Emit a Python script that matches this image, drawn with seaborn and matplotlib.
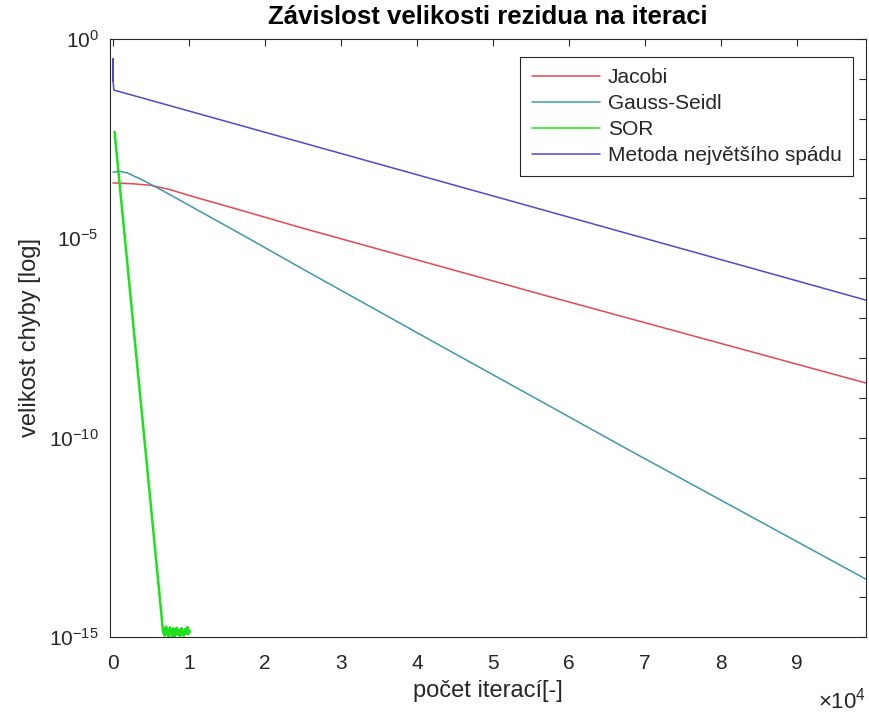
import matplotlib
matplotlib.use("Agg")
import matplotlib.pyplot as plt
import numpy as np
import pandas as pd
import seaborn as sns

# Data: iteration count and log10 of residual size
jacobi_x = [0, 2500, 5000, 7500, 11000, 16000, 24500, 57200, 99100]
jacobi_log = [-3.61, -3.63, -3.67, -3.78, -3.98, -4.25, -4.72, -6.45, -8.63]

gauss_x = [0, 900, 1900, 4000, 6500, 18200, 24500, 44100, 57200, 67900, 99100]
gauss_log = [-3.34, -3.32, -3.36, -3.55, -3.80, -5.04, -5.72, -7.80, -9.18, -10.31, -13.55]

sor_x = [200, 6400, 6500, 6600, 6700, 6800, 6900, 7000, 7100, 7200, 7300, 7400,
         7500, 7600, 7700, 7800, 7900, 8000, 8100, 8200, 8300, 8400, 8500, 8600,
         8700, 8800, 8900, 9000, 9100, 9200, 9300, 9400, 9500, 9600, 9700, 9800,
         9900, 10000, 10100]
sor_log = [-2.33, -14.50, -14.72, -14.90, -14.78, -14.97, -14.84, -14.74, -14.93,
           -14.82, -14.99, -14.86, -14.76, -14.94, -14.83, -14.98, -14.78, -14.90,
           -14.99, -14.80, -14.91, -14.77, -14.95, -14.86, -14.82, -14.98, -14.87,
           -14.78, -14.94, -14.84, -14.97, -14.90, -14.80, -14.92, -14.86, -14.75,
           -14.93, -14.82, -14.88]

steepest_x = [0, 0, 0, 100, 99100]
steepest_log = [-1.05, -0.50, -1.05, -1.28, -6.55]

series = [
    ("Jacobi", jacobi_x, jacobi_log, "#e8474f"),
    ("Gauss-Seidl", gauss_x, gauss_log, "#3d97b0"),
    ("SOR", sor_x, sor_log, "#1fe01f"),
    ("Metoda největšího spádu", steepest_x, steepest_log, "#4b4bd2"),
]

sns.set_theme(style="white")
plt.rcParams["font.family"] = ["Liberation Sans", "DejaVu Sans"]
plt.rcParams["mathtext.fontset"] = "custom"
plt.rcParams["mathtext.rm"] = "Liberation Sans"
plt.rcParams["mathtext.it"] = "Liberation Sans:italic"
text_col = "#262626"

fig = plt.figure(figsize=(8.69, 7.13), dpi=100)
ax = fig.add_axes([0.1266, 0.1066, 0.8699, 0.8387])

for name, xs, ys, col in series:
    df = pd.DataFrame({"x": xs, "y": np.power(10.0, ys)})
    sns.lineplot(data=df, x="x", y="y", ax=ax, color=col, label=name,
                 estimator=None, sort=False, linewidth=1.1 if name != "SOR" else 1.8)

ax.set_yscale("log")
ax.set_xlim(-400, 99100)
ax.set_ylim(1e-15, 1e0)

xticks = np.arange(0, 10) * 1e4
ax.set_xticks(xticks)
ax.set_xticklabels([str(i) for i in range(10)])
yt = [10.0 ** (-k) for k in range(0, 16)]
ax.set_yticks(yt)
ax.set_yticklabels([(r"$10^{%d}$" % (-k)) if k % 5 == 0 else "" for k in range(0, 16)])
ax.minorticks_off()
ax.tick_params(axis="both", which="major", direction="in", length=5, width=0.8,
               top=True, right=True, colors=text_col, labelsize=15)
ax.tick_params(axis="x", pad=12)
ax.tick_params(axis="y", pad=8)
for s in ax.spines.values():
    s.set_color(text_col)
    s.set_linewidth(0.8)

ax.set_xlabel("počet iterací[-]", fontsize=17, color=text_col, labelpad=5)
ax.set_ylabel("velikost chyby [log]", fontsize=17, color=text_col, labelpad=6)
ax.set_title("Závislost velikosti rezidua na iteraci", fontsize=18.5, fontweight="bold",
             color="black", pad=11)
ax.text(1.0, -0.107, r"$\times10^{4}$", transform=ax.transAxes, ha="right", va="center",
        fontsize=16, color=text_col)

leg = ax.legend(loc="upper right", bbox_to_anchor=(0.983, 0.97), fontsize=15,
                frameon=True, fancybox=False, framealpha=1, edgecolor=text_col,
                handlelength=3.3, handletextpad=0.35, labelspacing=0.33, borderpad=0.55,
                borderaxespad=0.0)
leg.get_frame().set_linewidth(0.8)
for t in leg.get_texts():
    t.set_color(text_col)
for ln in leg.get_lines():
    ln.set_linewidth(1.1)

fig.savefig("out.png", dpi=100)
